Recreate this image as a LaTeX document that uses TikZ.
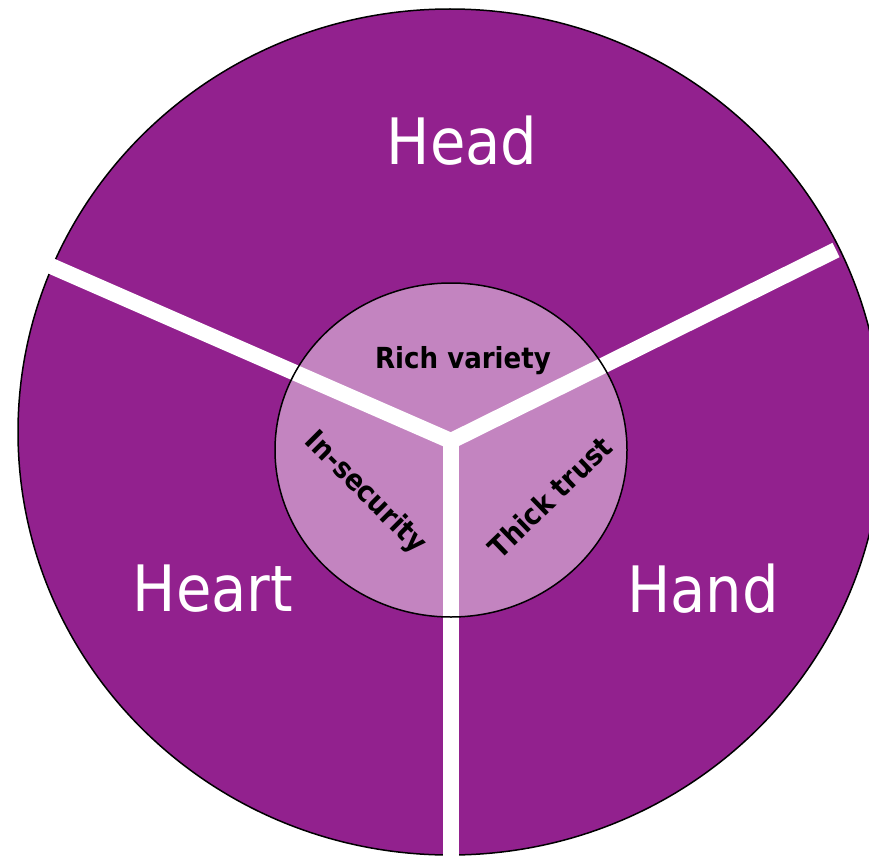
\documentclass[tikz,border=0pt]{standalone}
\usepackage{fontspec}
\setmainfont{DejaVu Sans Condensed}
\definecolor{deep}{RGB}{146,33,142}
\definecolor{soft}{RGB}{195,132,192}
\begin{document}
\begin{tikzpicture}[x=1pt,y=-1pt,
  outer/.style={text=white,font=\fontsize{64}{70}\selectfont},
  inner/.style={text=black,font=\bfseries\fontsize{29}{32}\selectfont,inner sep=0pt},
  divider/.style={white,line width=16pt}]
\clip (0,0) rectangle (869,856);
\useasboundingbox (0,0) rectangle (869,856);
\fill[white] (0,0) rectangle (869,856);
% big disc
\filldraw[fill=deep,draw=black,line width=1.5pt] (450,432) ellipse [x radius=432, y radius=423];
% inner disc fill
\fill[soft] (451,450) ellipse [x radius=176, y radius=167];
% dividers
\coordinate (J) at (451,441);
\coordinate (L) at (51,266);
\coordinate (R) at (836,250);
\coordinate (B) at (451,870);
\draw[divider,line join=miter] (L) -- (J) -- (R);
\draw[divider] (J) -- (B);
% inner outline
\draw[black,line width=1.5pt] (451,450) ellipse [x radius=176, y radius=167];
% labels
\node[outer] (head) at (462,141) {Head};
\node[outer] (heart) at (213,589) {Heart};
\node[outer] (hand) at (703,589) {Hand};
\node[inner] (rich) at (463,361) {Rich variety};
\node[inner,rotate=-45] (insec) at (365,493) {In-security};
\node[inner,rotate=44] (trust) at (550,497) {Thick trust};
\end{tikzpicture}
\end{document}
